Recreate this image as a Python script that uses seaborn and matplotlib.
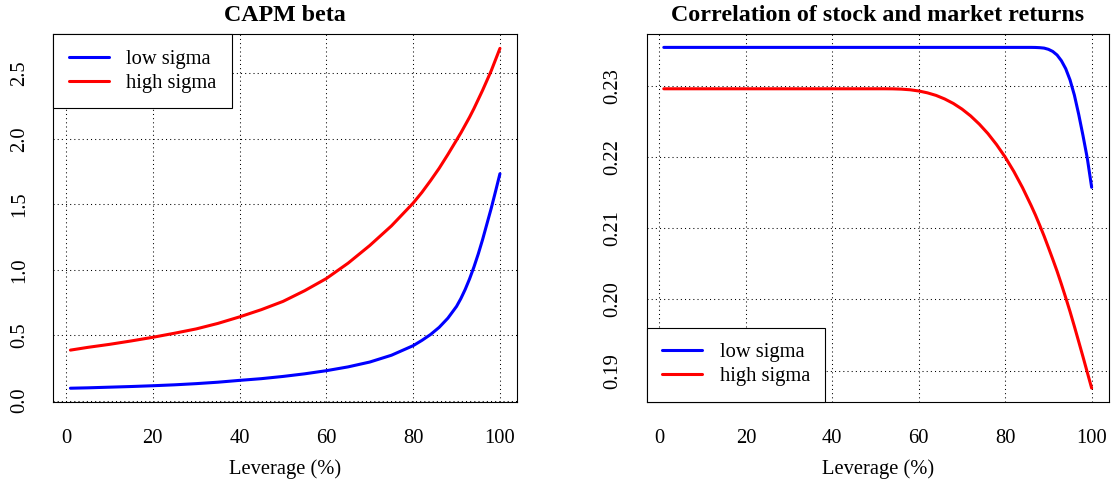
import numpy as np
import pandas as pd
import matplotlib
matplotlib.use("Agg")
import matplotlib.pyplot as plt
import seaborn as sns

# ---------------- data ----------------
beta_x = [1, 5, 10, 15, 20, 25, 30, 35, 40, 45, 50, 55, 60, 65, 70, 75, 80,
          82, 84, 86, 88, 90, 91, 92, 93, 94, 95, 96, 97, 98, 99, 100]
beta_low = [0.095, 0.098, 0.103, 0.108, 0.114, 0.121, 0.130, 0.141, 0.155, 0.168,
            0.185, 0.205, 0.229, 0.258, 0.295, 0.347, 0.420,
            0.460, 0.505, 0.560, 0.630, 0.720, 0.780, 0.850, 0.930, 1.020,
            1.120, 1.230, 1.350, 1.470, 1.600, 1.733]
beta_high = [0.386, 0.407, 0.430, 0.456, 0.484, 0.515, 0.548, 0.590, 0.640, 0.695,
             0.758, 0.840, 0.933, 1.050, 1.185, 1.335, 1.509,
             1.590, 1.680, 1.775, 1.880, 1.990, 2.045, 2.105, 2.165, 2.230,
             2.300, 2.370, 2.445, 2.520, 2.605, 2.690]

corr_x = [1, 10, 20, 30, 40, 50, 52, 54, 56, 58, 60, 62, 64, 66, 68, 70, 72, 74,
          76, 78, 80, 82, 84, 86, 87, 88, 89, 90, 91, 92, 93, 94, 95, 96, 97, 98,
          99, 100]
corr_low = [0.23539, 0.23539, 0.23539, 0.23539, 0.23539, 0.23539, 0.23539, 0.23539,
            0.23539, 0.23539, 0.23539, 0.23539, 0.23539, 0.23539, 0.23539, 0.23539,
            0.23539, 0.23539, 0.23539, 0.23539, 0.23539, 0.23539, 0.23539, 0.23539,
            0.23538, 0.23535, 0.23529, 0.23512, 0.23482, 0.23432, 0.23352, 0.23240,
            0.23082, 0.22870, 0.22600, 0.22300, 0.21980, 0.21575]
corr_high = [0.22958, 0.22958, 0.22958, 0.22958, 0.22958, 0.22958, 0.22958, 0.22957,
             0.22953, 0.22944, 0.22927, 0.22901, 0.22865, 0.22815, 0.22752, 0.22673,
             0.22577, 0.22462, 0.22329, 0.22174, 0.21998, 0.21797, 0.21571, 0.21319,
             0.21185, 0.21040, 0.20890, 0.20729, 0.20565, 0.20397, 0.20215, 0.20026,
             0.19830, 0.19623, 0.19410, 0.19195, 0.18975, 0.18756]

series_names = ["low sigma", "high sigma"]
series_colors = ["#0000FF", "#FF0000"]

x_ticks = [0, 20, 40, 60, 80, 100]
beta_ticks = [0.0, 0.5, 1.0, 1.5, 2.0, 2.5]
beta_ticklabels = ["0.0", "0.5", "1.0", "1.5", "2.0", "2.5"]
corr_ticks = [0.19, 0.20, 0.21, 0.22, 0.23]
corr_ticklabels = ["0.19", "0.20", "0.21", "0.22", "0.23"]

titles = ["CAPM beta", "Correlation of stock and market returns"]
xlabel = "Leverage (%)"

# ---------------- style ----------------
sns.set_style("white")
plt.rcParams["font.family"] = ["Liberation Serif", "DejaVu Serif"]
plt.rcParams["text.color"] = "black"
plt.rcParams["axes.labelcolor"] = "black"
plt.rcParams["xtick.color"] = "black"
plt.rcParams["ytick.color"] = "black"
FS = 14.8

fig = plt.figure(figsize=(11.14, 4.83), dpi=100)
ax1 = fig.add_axes([0.0478, 0.1683, 0.4164, 0.7613])
ax2 = fig.add_axes([0.5805, 0.1683, 0.4148, 0.7613])

beta_df = pd.DataFrame({"x": beta_x * 2,
                        "y": beta_low + beta_high,
                        "s": [series_names[0]] * len(beta_x) + [series_names[1]] * len(beta_x)})
corr_df = pd.DataFrame({"x": corr_x * 2,
                        "y": corr_low + corr_high,
                        "s": [series_names[0]] * len(corr_x) + [series_names[1]] * len(corr_x)})

palette = dict(zip(series_names, series_colors))

for ax, df, yt, ytl, ylim, title, legloc in [
    (ax1, beta_df, beta_ticks, beta_ticklabels, (-0.008, 2.80), titles[0], "upper left"),
    (ax2, corr_df, corr_ticks, corr_ticklabels, (0.18565, 0.23727), titles[1], "lower left"),
]:
    sns.lineplot(data=df, x="x", y="y", hue="s", palette=palette, ax=ax,
                 linewidth=2.2, legend=False, sort=False, estimator=None)
    ax.set_xlim(-2.96, 103.96)
    ax.set_ylim(*ylim)
    ax.set_xticks(x_ticks)
    ax.set_xticklabels([str(t) for t in x_ticks])
    ax.set_yticks(yt)
    ax.set_yticklabels(ytl, rotation=90, va="center")
    ax.grid(True, linestyle=(0, (1, 3)), color="black", linewidth=0.75)
    ax.set_axisbelow(True)
    for sp in ax.spines.values():
        sp.set_color("black")
        sp.set_linewidth(0.8)
        sp.set_visible(True)
    ax.tick_params(axis="both", which="major", direction="out", length=9.4,
                   width=0.8, color="black", labelsize=FS, labelcolor="black")
    ax.tick_params(axis="x", pad=10)
    ax.tick_params(axis="y", pad=8)
    ax.set_xlabel(xlabel, fontsize=FS, labelpad=8, color="black")
    ax.set_ylabel("")
    ax.set_title(title, fontsize=17.3, fontweight="bold", pad=9.4, color="black")
    handles = [plt.Line2D([], [], color=c, linewidth=2.2) for c in series_colors]
    leg = ax.legend(handles, series_names, loc=legloc, borderaxespad=0,
                    fontsize=FS, frameon=True, fancybox=False, framealpha=1,
                    edgecolor="black", handlelength=1.95, handletextpad=0.85,
                    borderpad=0.75, labelspacing=0.22)
    leg.get_frame().set_linewidth(0.8)
    for t in leg.get_texts():
        t.set_color("black")

fig.savefig("out.png", dpi=100)
